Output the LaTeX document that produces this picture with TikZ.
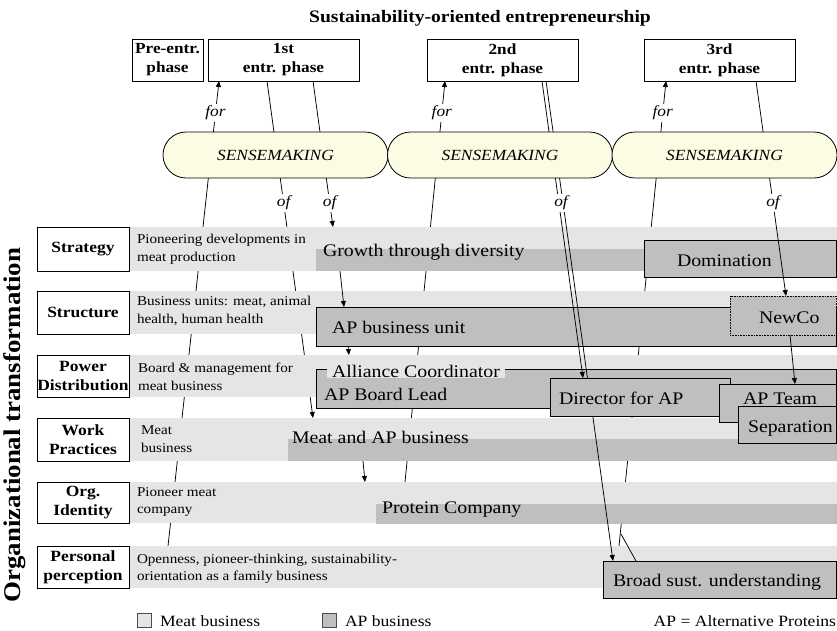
\documentclass[tikz,border=0pt]{standalone}
\usepackage{fontspec}
\setmainfont{Liberation Serif}[FakeStretch=1.12]
\usetikzlibrary{arrows.meta,calc}
\definecolor{barlight}{HTML}{E5E5E5}
\definecolor{bardark}{HTML}{BFBFBF}
\definecolor{cream}{HTML}{FCFBE3}
\pgfdeclarelayer{back}
\pgfdeclarelayer{over}
\pgfdeclarelayer{front}
\pgfsetlayers{back,main,over,front}
\newcommand\ftitle{\fontsize{17.5}{20}\selectfont\bfseries}
\newcommand\fphase{\fontsize{15.4}{19}\selectfont\bfseries}
\newcommand\flabel{\fontsize{15.6}{18.5}\selectfont\bfseries}
\newcommand\fsense{\fontsize{15.5}{18}\selectfont\itshape}
\newcommand\flight{\fontsize{13.5}{17.5}\selectfont}
\newcommand\fdark{\fontsize{17.7}{20}\selectfont}
\newcommand\flegend{\fontsize{15.7}{18}\selectfont}
\newcommand\fside{\fontsize{24}{28}\selectfont\bfseries}
\begin{document}
\begin{tikzpicture}[x=1pt,y=-1pt,
  every node/.style={inner sep=0pt,outer sep=0pt},
  phasebox/.style={draw,line width=0.8pt,fill=white,anchor=north west,align=center,font=\fphase,minimum height=42pt},
  lblbox/.style={draw,line width=0.8pt,fill=white,anchor=north west,align=center,font=\flabel,minimum width=92pt},
  sense/.style={draw,line width=0.8pt,fill=cream,rounded corners=23pt,minimum width=225pt,minimum height=46pt,font=\fsense},
  lbar/.style={fill=barlight,anchor=north west,minimum width=708pt},
  dbar/.style={fill=bardark,anchor=north west},
  dbox/.style={draw,line width=0.7pt,fill=bardark,anchor=north west},
  btext/.style={font=\fdark,anchor=base west},
  ltext/.style={font=\flight,align=left,anchor=west},
  conn/.style={line width=0.75pt,-{Triangle[length=6pt,width=5pt]}},
  plain/.style={line width=0.75pt},
  lab/.style={fill=white,font=\fsense,inner sep=1.5pt}]
\path[use as bounding box] (0,0) rectangle (837,630);

% heading and phases
\node[font=\ftitle] (title) at (480,18) {Sustainability-oriented entrepreneurship};
\node[phasebox,minimum width=71pt] (pre) at (132,39) {Pre-entr.\\phase};
\node[phasebox,minimum width=151pt] (ph1) at (208,39) {1st\\entr. phase};
\node[phasebox,minimum width=151pt] (ph2) at (427,39) {2nd\\entr. phase};
\node[phasebox,minimum width=151pt] (ph3) at (644,39) {3rd\\entr. phase};

% transformation rows: meat business bars
\node[lbar,minimum height=44pt] (bStr) at (129,227) {};
\node[lbar,minimum height=43pt] (bStc) at (129,291) {};
\node[lbar,minimum height=42pt] (bPow) at (129,355) {};
\node[lbar,minimum height=43pt] (bWork) at (129,418) {};
\node[lbar,minimum height=41pt] (bOrg) at (129,482) {};
\node[lbar,minimum height=42pt] (bPers) at (129,546) {};

\node[lblbox,minimum height=44pt] (lStr) at (37,227) {Strategy};
\node[lblbox,minimum height=43pt] (lStc) at (37,291) {Structure};
\node[lblbox,minimum height=42pt] (lPow) at (37,355) {Power\\Distribution};
\node[lblbox,minimum height=43pt] (lWork) at (37,418) {Work\\Practices};
\node[lblbox,minimum height=41pt] (lOrg) at (37,482) {Org.\\Identity};
\node[lblbox,minimum height=42pt] (lPers) at (37,546) {Personal\\perception};

\node[ltext] (tStr) at (137,249) {Pioneering developments in\\meat production};
\node[ltext] (tStc) at (137,311) {Business units: meat, animal\\health, human health};
\node[ltext] (tPow) at (138,377) {Board \& management for\\meat business};
\node[ltext] (tWork) at (141,439) {Meat\\business};
\node[ltext] (tOrg) at (137,502) {Pioneer meat\\company};
\node[ltext] (tPers) at (137,569) {Openness, pioneer-thinking, sustainability-\\orientation as a family business};

% AP business bars and boxes
\node[dbar,minimum width=521pt,minimum height=22pt] (grow) at (316,249) {};
\node[btext] (growT) at (323,256) {Growth through diversity};
\node[dbox,minimum width=192pt,minimum height=37pt] (dom) at (644,240) {};
\node[btext] (domT) at (677,266) {Domination};
\node[dbox,minimum width=520pt,minimum height=39pt] (apu) at (316,307) {};
\node[btext] (apuT) at (332,333) {AP business unit};
\node[dbox,dash pattern=on 0.8pt off 0.8pt,minimum width=106pt,minimum height=39pt] (newco) at (730,296) {};
\node[btext] (newcoT) at (759,323) {NewCo};
\node[dbox,minimum width=520pt,minimum height=39pt] (board) at (316,369) {};
\node[btext] (boardT) at (324,400) {AP Board Lead};
\node[btext,fill=barlight,inner xsep=5pt,inner ysep=1pt] (alli) at (327,377) {Alliance Coordinator};
\node[dbar,minimum width=549pt,minimum height=22pt] (meat) at (288,439) {};
\node[btext] (meatT) at (292,443) {Meat and AP business};
\node[dbar,minimum width=461pt,minimum height=20pt] (prot) at (376,504) {};
\node[btext] (protT) at (382,513) {Protein Company};

\begin{pgfonlayer}{front}
  \node[sense] (s1) at (275.5,155) {SENSEMAKING};
  \node[sense] (s2) at (500,155) {SENSEMAKING};
  \node[sense] (s3) at (724.5,155) {SENSEMAKING};
  \node[dbox,minimum width=180pt,minimum height=38pt] (dir) at (550,378) {};
  \node[btext] (dirT) at (559,404) {Director for AP};
  \node[dbox,minimum width=117pt,minimum height=38pt] (team) at (719,384) {};
  \node[btext] (teamT) at (743,404) {AP Team};
  \node[dbox,minimum width=98pt,minimum height=37pt] (sep) at (738,406) {};
  \node[btext] (sepT) at (748,432) {Separation};
  \node[dbox,minimum width=233pt,minimum height=37pt] (broad) at (603,561) {};
  \node[btext] (broadT) at (613,586) {Broad sust. understanding};
\end{pgfonlayer}

% sensemaking for / of links running behind the rows
\begin{pgfonlayer}{back}
  \draw[conn] ($(bPers.north west)+(39,0)$) -- node[lab,pos=0.931] (forA) {for} ($(ph1.south west)+(11,0)$);
  \draw[conn] ($(ph1.south west)+(59,0)$) -- node[lab,pos=0.362] (ofB) {of} ($(bWork.north west)+(184,0)$);
  \draw[conn] ($(bOrg.north west)+(276,0)$) -- node[lab,pos=0.920] (forD) {for} ($(ph2.south west)+(18,0)$);
  \draw[conn] ($(bPers.north west)+(490,0)$) -- node[lab,pos=0.931] (forE) {for} ($(ph3.south west)+(22,0)$);
\end{pgfonlayer}

% links drawn over the rows
\begin{pgfonlayer}{over}
  \draw[conn] ($(ph1.south west)+(105,0)$) -- node[lab,pos=0.836] (ofC) {of} ($(bStr.north west)+(204,0)$);
  \draw[conn] ($(ph3.south west)+(112,0)$) -- node[lab,pos=0.567] (ofF) {of} ($(newco.north west)+(56,0)$);
  \draw[conn] ($(ph2.south west)+(115,0)$) -- ($(dir.north west)+(33,0)$);
  \draw[conn] ($(ph2.south west)+(119,0)$) -- ($(broad.north west)+(10,0)$);
  \node[lab] (ofG) at (561,203) {of};
  \draw[conn] ($(grow.south west)+(24,0)$) -- ($(apu.north west)+(28,0)$);
  \draw[conn] ($(apu.south west)+(32,0)$) -- ($(bPow.north west)+(220,0)$);
  \draw[conn] ($(meat.south west)+(75,0)$) -- ($(bOrg.north west)+(236,0)$);
  \draw[conn] ($(newco.south west)+(60,0)$) -- ($(team.north west)+(76,0)$);
  \coordinate (etail) at ($(bPers.north west)+(492,-12)$);
  \draw[plain] (etail) -- ($(broad.north west)+(33,0)$);
\end{pgfonlayer}

% legend
\node[draw=black!70,line width=0.6pt,fill=barlight,minimum size=14pt] (lgm) at (144.5,620.5) {};
\node[font=\flegend,anchor=base west] (lgmT) at (160,626) {Meat business};
\node[draw=black!70,line width=0.6pt,fill=bardark,minimum size=14pt] (lga) at (329.5,620.5) {};
\node[font=\flegend,anchor=base west] (lgaT) at (345,626) {AP business};
\node[font=\flegend,anchor=base east] (note) at (836,626) {AP = Alternative Proteins};

\node[font=\fside,rotate=90] (side) at (15,425) {Organizational transformation};
\end{tikzpicture}
\end{document}
